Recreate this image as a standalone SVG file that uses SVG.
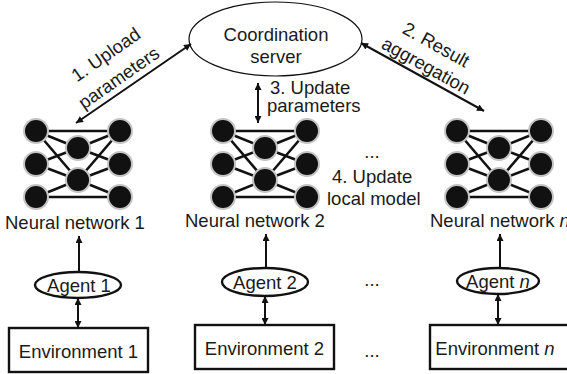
<svg xmlns="http://www.w3.org/2000/svg" xmlns:xlink="http://www.w3.org/1999/xlink" width="567" height="374" viewBox="0 0 567 374">
  <style>
    text { font-family: "Liberation Sans", Arial, sans-serif; font-size: 18.5px; fill: #1a1a1a; }
    .mid { text-anchor: middle; }
    .conn { stroke: #111; stroke-width: 2; fill: none; marker-end: url(#head); }
    .both { marker-start: url(#head); }
    .edge { stroke: #111; stroke-width: 2.6; }
    .neuron { fill: #111; stroke: #c4c4c4; stroke-width: 2; }
    .agent { fill: #fff; stroke: #111; stroke-width: 2.4; }
    .env { fill: #fff; stroke: #111; stroke-width: 2.4; }
  </style>
  <defs>
    <marker id="head" viewBox="0 0 10 10" refX="10" refY="5" markerWidth="9" markerHeight="7" markerUnits="userSpaceOnUse" orient="auto-start-reverse">
      <path d="M0,0 L10,5 L0,10 z" fill="#111"/>
    </marker>
    <!-- 3-2-3 network, centred on the middle column -->
    <g id="net">
      <line class="edge" x1="-42" y1="131" x2="42" y2="131"/>
      <line class="edge" x1="-42" y1="197" x2="42" y2="197"/>
      <line class="edge" x1="-42" y1="131" x2="0" y2="148"/>
      <line class="edge" x1="-42" y1="131" x2="0" y2="180"/>
      <line class="edge" x1="-42" y1="164" x2="0" y2="148"/>
      <line class="edge" x1="-42" y1="164" x2="0" y2="180"/>
      <line class="edge" x1="-42" y1="197" x2="0" y2="180"/>
      <line class="edge" x1="42" y1="131" x2="0" y2="148"/>
      <line class="edge" x1="42" y1="131" x2="0" y2="180"/>
      <line class="edge" x1="42" y1="164" x2="0" y2="148"/>
      <line class="edge" x1="42" y1="164" x2="0" y2="180"/>
      <line class="edge" x1="42" y1="197" x2="0" y2="180"/>
      <circle class="neuron" cx="-42" cy="131" r="12"/>
      <circle class="neuron" cx="-42" cy="164" r="12"/>
      <circle class="neuron" cx="-42" cy="197" r="12"/>
      <circle class="neuron" cx="0" cy="148" r="12"/>
      <circle class="neuron" cx="0" cy="180" r="12"/>
      <circle class="neuron" cx="42" cy="131" r="12"/>
      <circle class="neuron" cx="42" cy="164" r="12"/>
      <circle class="neuron" cx="42" cy="197" r="12"/>
    </g>
  </defs>

  <!-- server -->
  <g id="server">
    <ellipse cx="275.5" cy="39" rx="86.5" ry="37" fill="#fff" stroke="#111" stroke-width="1.2"/>
    <text class="mid" x="276" y="41">Coordination</text>
    <text class="mid" x="276" y="63">server</text>
  </g>

  <!-- neural networks -->
  <g id="nn1">
    <use xlink:href="#net" href="#net" transform="translate(78,0)"/>
    <text x="5" y="229">Neural network 1</text>
  </g>
  <g id="nn2">
    <use xlink:href="#net" href="#net" transform="translate(265,0)"/>
    <text x="185" y="227">Neural network 2</text>
  </g>
  <g id="nnn">
    <use xlink:href="#net" href="#net" transform="translate(499,0)"/>
    <text x="430" y="227">Neural network <tspan font-style="italic">n</tspan></text>
  </g>

  <!-- agents -->
  <g id="agent1">
    <ellipse class="agent" cx="78" cy="285" rx="43" ry="13"/>
    <text class="mid" x="79" y="292">Agent 1</text>
  </g>
  <g id="agent2">
    <ellipse class="agent" cx="265" cy="282" rx="43" ry="14"/>
    <text class="mid" x="265" y="289">Agent 2</text>
  </g>
  <g id="agentn">
    <ellipse class="agent" cx="498" cy="281" rx="41" ry="13"/>
    <text class="mid" x="498" y="288">Agent <tspan font-style="italic">n</tspan></text>
  </g>

  <!-- environments -->
  <g id="env1">
    <rect class="env" x="9" y="328" width="139" height="44"/>
    <text class="mid" x="78.5" y="358">Environment 1</text>
  </g>
  <g id="env2">
    <rect class="env" x="195" y="325" width="139" height="44"/>
    <text class="mid" x="264.5" y="355">Environment 2</text>
  </g>
  <g id="envn">
    <rect class="env" x="430" y="325" width="139" height="44"/>
    <text class="mid" x="495" y="355">Environment <tspan font-style="italic">n</tspan></text>
  </g>

  <!-- connectors -->
  <g id="connectors">
    <line class="conn both" x1="76" y1="123" x2="191" y2="44"/>
    <line class="conn both" x1="361" y1="43" x2="484" y2="111"/>
    <line class="conn both" x1="258" y1="83" x2="258" y2="123"/>
    <line class="conn" x1="79" y1="272" x2="79" y2="236"/>
    <line class="conn" x1="266" y1="268" x2="266" y2="234"/>
    <line class="conn" x1="500" y1="268" x2="500" y2="234"/>
    <line class="conn both" x1="78" y1="298" x2="78" y2="328"/>
    <line class="conn both" x1="265" y1="296" x2="265" y2="325"/>
    <line class="conn both" x1="498" y1="294" x2="498" y2="325"/>
  </g>

  <!-- step labels -->
  <g id="labels">
    <g transform="translate(106,55) rotate(-35)">
      <text class="mid" x="0" y="6">1. Upload</text>
    </g>
    <g transform="translate(119,78) rotate(-35)">
      <text class="mid" x="0" y="6">parameters</text>
    </g>
    <g transform="translate(436,45) rotate(29)">
      <text class="mid" x="0" y="6">2. Result</text>
    </g>
    <g transform="translate(426,66) rotate(29)">
      <text class="mid" x="0" y="6">aggregation</text>
    </g>
    <text x="270" y="94">3. Update</text>
    <text x="267" y="112">parameters</text>
    <text x="332" y="183">4. Update</text>
    <text x="327" y="205">local model</text>
    <text class="mid" x="372" y="158">...</text>
    <text class="mid" x="372" y="286">...</text>
    <text class="mid" x="372" y="357">...</text>
  </g>
</svg>
